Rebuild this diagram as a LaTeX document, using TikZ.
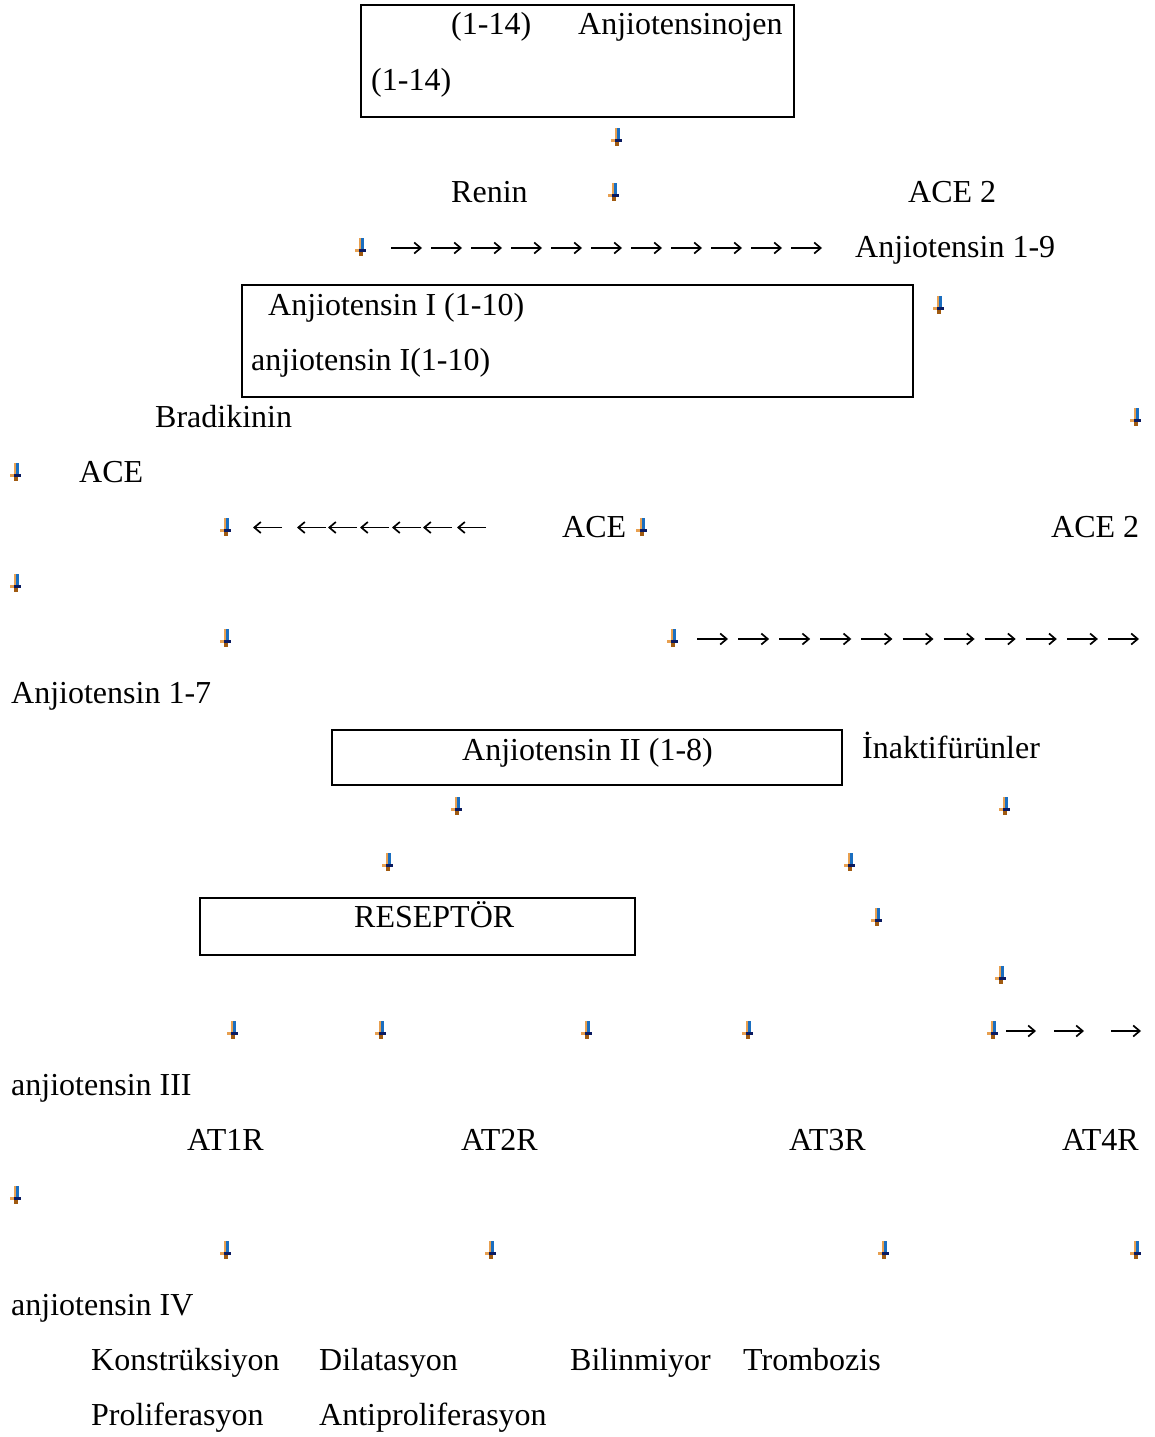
\documentclass[tikz,border=0pt]{standalone}
\usepackage{fontspec}
\setmainfont{Liberation Serif}
\usetikzlibrary{arrows.meta}
\definecolor{icoorange}{HTML}{E8A050}
\definecolor{icoblue}{HTML}{1A6EC0}
\definecolor{iconavy}{HTML}{0A1A60}
\definecolor{icobrown}{HTML}{A05A10}
\begin{document}
\begin{tikzpicture}[x=1pt,y=-1pt,
  t/.style={inner sep=0pt, anchor=base west, font=\fontsize{32}{38}\selectfont},
  box/.style={draw, line width=1.6pt},
  glyph/.style={line width=1.7pt, -{Straight Barb[length=6.5pt,width=11pt,line width=1.7pt]}},
  dn/.pic={
    \fill[icoorange] (-2.5,-9) rectangle (0,4);
    \fill[icoblue] (0,-9) rectangle (3,4);
    \fill[icoorange] (-6,2) rectangle (-2,5);
    \fill[iconavy] (-2,2) rectangle (5,5);
    \fill[icobrown] (-2,5) rectangle (2,9);
  }]
\useasboundingbox (0,0) rectangle (1154,1437);

% boxes
\draw[box] (361,5) rectangle (794,117);
\draw[box] (242,285) rectangle (913,397);
\draw[box] (332,730) rectangle (842,785);
\draw[box] (200,898) rectangle (635,955);

% texts
\node[t] (t1) at (451,35) {(1-14)};
\node[t] (t2) at (578,35) {Anjiotensinojen};
\node[t] (t3) at (371,90) {(1-14)};
\node[t] (renin) at (451,202) {Renin};
\node[t] (ace2a) at (908,202) {ACE 2};
\node[t] (a19) at (855,257) {Anjiotensin 1-9};
\node[t] (ai1) at (268,315) {Anjiotensin I (1-10)};
\node[t] (ai2) at (251,370) {anjiotensin I(1-10)};
\node[t] (brad) at (155,427) {Bradikinin};
\node[t] (acea) at (79,482) {ACE};
\node[t] (aceb) at (562,537) {ACE};
\node[t] (ace2b) at (1051,537) {ACE 2};
\node[t] (a17) at (11,703) {Anjiotensin 1-7};
\node[t] (aii) at (462,760) {Anjiotensin II (1-8)};
\node[t] (inak) at (862,758) {İnaktifürünler};
\node[t] (res) at (354,927) {RESEPTÖR};
\node[t] (aiii) at (11,1095) {anjiotensin III};
\node[t] (at1) at (187,1150) {AT1R};
\node[t] (at2) at (461,1150) {AT2R};
\node[t] (at3) at (789,1150) {AT3R};
\node[t] (at4) at (1062,1150) {AT4R};
\node[t] (aiv) at (11,1315) {anjiotensin IV};
\node[t] (kon) at (91,1370) {Konstrüksiyon};
\node[t] (dil) at (319,1370) {Dilatasyon};
\node[t] (bil) at (570,1370) {Bilinmiyor};
\node[t] (tro) at (743,1370) {Trombozis};
\node[t] (pro) at (91,1425) {Proliferasyon};
\node[t] (anti) at (319,1425) {Antiproliferasyon};

% arrow glyphs
\foreach \i in {0,...,10} {
  \coordinate (ras\i) at ({391+40*\i},248);
  \coordinate (rae\i) at ({422+40*\i},248);
  \draw[glyph] (ras\i) -- (rae\i);
}
\foreach \i in {0,...,10} {
  \coordinate (rbs\i) at ({697+41.1*\i},639);
  \coordinate (rbe\i) at ({728+41.1*\i},639);
  \draw[glyph] (rbs\i) -- (rbe\i);
}
\foreach \x [count=\i] in {253,297,328,360,392,423,457} {
  \coordinate (las\i) at ({\x+29},527.5);
  \coordinate (lae\i) at (\x,527.5);
  \draw[glyph] (las\i) -- (lae\i);
}
\foreach \x [count=\i] in {1006,1054,1111} {
  \coordinate (rcs\i) at (\x,1031);
  \coordinate (rce\i) at ({\x+30},1031);
  \draw[glyph] (rcs\i) -- (rce\i);
}

% small down-arrow icons
\foreach \x/\y in {617/137, 614/192, 361/247, 939/305, 1136/417, 16/472,
  226/527, 642/527, 16/583, 226/638, 673/638, 457/806, 1005/806,
  388/862, 850/862, 877/917, 1001/975,
  233/1030, 381/1030, 587/1030, 748/1030, 993/1030,
  16/1195, 226/1250, 491/1250, 884/1250, 1136/1250}
  \pic at (\x,\y) {dn};
\end{tikzpicture}
\end{document}
